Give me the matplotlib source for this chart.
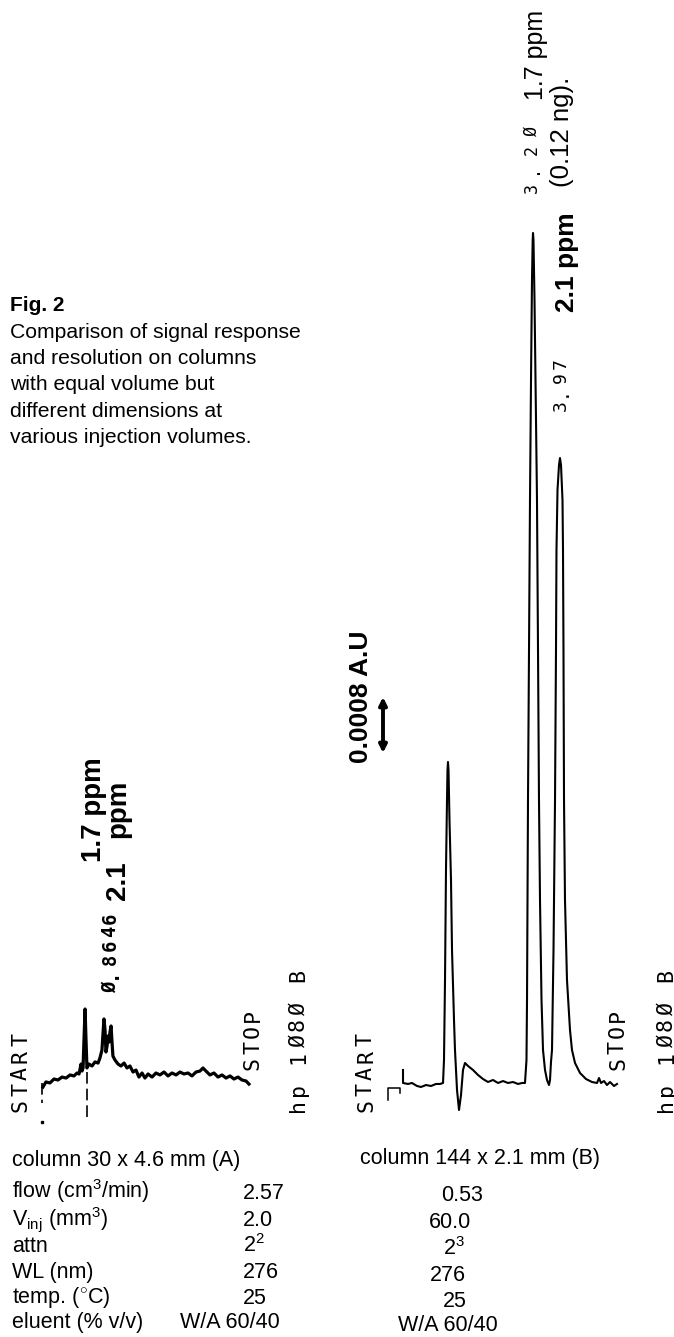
import matplotlib
matplotlib.use("Agg")
import matplotlib.pyplot as plt

plt.rcParams['mathtext.fontset'] = 'custom'
plt.rcParams['mathtext.rm'] = 'Liberation Sans'
plt.rcParams['mathtext.it'] = 'Liberation Sans:italic'
plt.rcParams['mathtext.bf'] = 'Liberation Sans:bold'

# ---------------- data ----------------
# Column A chromatogram (30 x 4.6 mm): retention time (min), absorbance (mAU)
left_t = [0.485, 0.507, 0.537, 0.567, 0.597, 0.627, 0.657, 0.687, 0.716, 0.739,
          0.754, 0.769, 0.776, 0.784, 0.791, 0.799, 0.806, 0.813, 0.828, 0.851,
          0.873, 0.896, 0.910, 0.925, 0.940, 0.948, 0.955, 0.963, 0.970, 0.978,
          0.985, 0.993, 1.000, 1.007, 1.022, 1.045, 1.067, 1.090, 1.112, 1.134,
          1.157, 1.179, 1.201, 1.224, 1.246, 1.269, 1.299, 1.328, 1.358, 1.388,
          1.418, 1.448, 1.478, 1.507, 1.537, 1.567, 1.597, 1.627, 1.657, 1.679,
          1.701, 1.731, 1.761, 1.791, 1.821, 1.851, 1.881, 1.910, 1.940, 1.970,
          2.000, 2.022]
left_mau = [-0.050, -0.014, -0.021, 0.007, 0.000, 0.021, 0.014, 0.036, 0.029, 0.050,
            0.043, 0.114, 0.064, 0.086, 0.286, 0.507, 0.286, 0.086, 0.114, 0.100,
            0.129, 0.121, 0.157, 0.214, 0.436, 0.357, 0.200, 0.243, 0.314, 0.271,
            0.343, 0.386, 0.271, 0.171, 0.143, 0.114, 0.100, 0.121, 0.086, 0.100,
            0.057, 0.071, 0.021, 0.050, 0.014, 0.043, 0.021, 0.050, 0.036, 0.057,
            0.029, 0.050, 0.036, 0.057, 0.043, 0.050, 0.029, 0.057, 0.064, 0.086,
            0.064, 0.036, 0.050, 0.021, 0.036, 0.014, 0.029, 0.007, 0.021, 0.000,
            -0.007, -0.029]
left_inject_t = 0.813
left_inject_mau = [0.057, -0.286]
left_start_t = 0.478
left_start_mau = [-0.021, -0.164]

# Column B chromatogram (144 x 2.1 mm)
right_t = [-0.514, -0.514, -0.371, -0.257, -0.114, 0.000, 0.143, 0.286, 0.429, 0.543,
           0.629, 0.657, 0.686, 0.714, 0.743, 0.757, 0.771, 0.786, 0.814, 0.857,
           0.886, 0.943, 0.971, 1.029, 1.086, 1.143, 1.200, 1.257, 1.343, 1.486,
           1.629, 1.771, 1.914, 2.057, 2.200, 2.343, 2.486, 2.629, 2.771, 2.886,
           2.971, 3.014, 3.029, 3.043, 3.057, 3.086, 3.114, 3.143, 3.171, 3.191,
           3.200, 3.214, 3.243, 3.286, 3.314, 3.343, 3.371, 3.400, 3.443, 3.486,
           3.543, 3.600, 3.657, 3.686, 3.714, 3.743, 3.786, 3.829, 3.857, 3.871,
           3.900, 3.943, 3.971, 4.000, 4.043, 4.057, 4.071, 4.086, 4.114, 4.171,
           4.257, 4.314, 4.400, 4.543, 4.714, 4.886, 5.029, 5.086, 5.143, 5.229,
           5.314, 5.400, 5.514, 5.600]
right_mau = [0.229, 0.043, 0.029, 0.043, 0.000, -0.014, 0.014, 0.000, 0.029, 0.029,
             0.043, 0.371, 1.514, 3.086, 4.086, 4.514, 4.629, 4.514, 3.800, 2.943,
             1.943, 0.943, 0.514, -0.057, -0.343, -0.129, 0.229, 0.329, 0.286, 0.229,
             0.157, 0.100, 0.057, 0.086, 0.043, 0.071, 0.043, 0.057, 0.029, 0.043,
             0.043, 0.371, 1.229, 2.657, 4.086, 6.229, 8.371, 10.086, 11.514, 12.086,
             12.186, 12.086, 11.229, 9.514, 8.371, 6.229, 4.086, 2.657, 1.229, 0.514,
             0.229, 0.086, 0.014, 0.086, 0.343, 0.514, 1.943, 4.086, 6.229, 7.657,
             8.514, 8.871, 8.971, 8.871, 8.371, 7.657, 6.229, 4.086, 2.657, 1.514,
             0.800, 0.514, 0.329, 0.186, 0.100, 0.057, 0.043, 0.114, 0.043, 0.071,
             0.014, 0.057, 0.000, 0.029]
right_hook_t = [-0.943, -0.943, -0.600, -0.600]
right_hook_mau = [-0.200, -0.029, -0.029, -0.100]
scale_bar_mau = 0.8          # 0.0008 A.U

# Table
row_labels = [r"flow (cm$^{3}$/min)", r"V$_{\rm inj}$ (mm$^{3}$)", "attn",
              "WL (nm)", r"temp. ($^{\circ}$C)", "eluent (% v/v)"]
col_a_title = "column 30 x 4.6 mm (A)"
col_b_title = "column 144 x 2.1 mm (B)"
col_a_values = ["2.57", "2.0", r"2$^{2}$", "276", "25", "W/A 60/40"]
col_b_values = ["0.53", "60.0", r"2$^{3}$", "276", "25", "W/A 60/40"]

caption_title = "Fig. 2"
caption_lines = ["Comparison of signal response",
                 "and resolution on columns",
                 "with equal volume but",
                 "different dimensions at",
                 "various injection volumes."]

# ---------------- figure ----------------
W, H = 674, 1337
fig = plt.figure(figsize=(W / 100, H / 100), dpi=100)
fig.patch.set_facecolor("white")

bg = fig.add_axes([0, 0, 1, 1])
bg.set_xlim(0, W)
bg.set_ylim(H, 0)
bg.axis("off")


def px_axes(x0, x1, ytop, ybot):
    ax = fig.add_axes([x0 / W, 1 - ybot / H, (x1 - x0) / W, (ybot - ytop) / H])
    ax.set_facecolor("none")
    ax.axis("off")
    return ax


# chart geometry (recorder scale)
R_T0, R_PPM, R_BASE, R_PPA = 421, 35.0, 1086, 70.0     # right: px/min, px/mAU
L_T0, L_PPM, L_BASE, L_PPA = -22, 134.0, 1080, 140.0   # left (attn 2^2)

axR = px_axes(380, 640, 200, 1130)
axR.set_xlim((380 - R_T0) / R_PPM, (640 - R_T0) / R_PPM)
axR.set_ylim((R_BASE - 1130) / R_PPA, (R_BASE - 200) / R_PPA)

axL = px_axes(30, 270, 950, 1130)
axL.set_xlim((30 - L_T0) / L_PPM, (270 - L_T0) / L_PPM)
axL.set_ylim((L_BASE - 1130) / L_PPA, (L_BASE - 950) / L_PPA)

# traces
axL.plot(left_t, left_mau, color="black", lw=2.3, solid_joinstyle="round")
axL.plot([left_inject_t, left_inject_t], left_inject_mau, color="black", lw=1.2,
         ls=(0, (7, 3)))
axL.plot([left_start_t, left_start_t], left_start_mau, color="black", lw=1.2,
         ls=(0, (7, 3)))
axL.plot([left_start_t], [-0.300], marker="s", ms=1.5, color="black")

axR.plot(right_t, right_mau, color="black", lw=1.5, solid_joinstyle="round")
axR.plot(right_hook_t, right_hook_mau, color="black", lw=1.1)
bar_t = (383 - R_T0) / R_PPM
bar_y0 = (R_BASE - 753) / R_PPA
axR.annotate("", xy=(bar_t, bar_y0 + scale_bar_mau), xytext=(bar_t, bar_y0),
             arrowprops=dict(arrowstyle="<|-|>", lw=2.8, color="black",
                             mutation_scale=11, shrinkA=0, shrinkB=0))


# ---------------- text helpers ----------------
def rtext(x, y, s, size, weight="normal", family="Liberation Sans"):
    bg.text(x, y, s, rotation=90, rotation_mode="anchor", ha="left",
            va="baseline", fontsize=size, fontweight=weight, family=family,
            color="black")


def hp_text(xc, y_first, s, pitch, size, weight="normal"):
    for i, ch in enumerate(s):
        if ch == " ":
            continue
        bg.text(xc, y_first - i * pitch, ch, rotation=90, ha="center",
                va="center", fontsize=size, fontweight=weight,
                family="DejaVu Sans Mono", color="black")


# printer annotations
hp_text(21, 1106, "START", 16.5, 15.5)
hp_text(366, 1106, "START", 16.5, 15.5)
hp_text(253, 1064, "STOP", 16, 15.5)
hp_text(618, 1064, "STOP", 16, 15.5)
hp_text(298, 1106, "hp 1Ø8Ø B", 16.3, 15.5)
hp_text(666, 1106, "hp 1Ø8Ø B", 16.3, 15.5)
hp_text(110, 987, "Ø.8646", 13.8, 13.5, weight="bold")
hp_text(561, 406, "3.97", 14, 13)
hp_text(532, 188, "3.2Ø", 19, 12)

# hand labels
rtext(101, 862, "1.7 ppm", 20, weight="bold")
rtext(125, 900, "2.1", 20, weight="bold")
rtext(125, 838, "ppm", 20, weight="bold")
rtext(543, 100, "1.7 ppm", 18)
rtext(569, 187, "(0.12 ng).", 18.5)
rtext(574, 312, "2.1 ppm", 19, weight="bold")
rtext(368, 763, "0.0008 A.U", 19, weight="bold")

# caption
bg.text(10, 311, caption_title, fontsize=15, fontweight="bold",
        family="Liberation Sans", va="baseline", ha="left")
for i, line in enumerate(caption_lines):
    bg.text(10, 338 + i * 26.2, line, fontsize=15.2, family="Liberation Sans",
            va="baseline", ha="left")

# table
tfont = dict(fontsize=15.5, family="Liberation Sans", va="baseline", ha="left")
bg.text(12, 1166, col_a_title, **tfont)
bg.text(360, 1164, col_b_title, **tfont)
label_base = [1198, 1225, 1252, 1278, 1303, 1328]
a_x = [243, 243, 243, 243, 243, 180]
a_base = [1199, 1226, 1252, 1278, 1304, 1328]
b_x = [441, 429, 443, 430, 443, 398]
b_base = [1201, 1228, 1255, 1281, 1307, 1331]
for lab, yb in zip(row_labels, label_base):
    bg.text(12, yb, lab, **tfont)
for v, x, yb in zip(col_a_values, a_x, a_base):
    bg.text(x, yb, v, **tfont)
for v, x, yb in zip(col_b_values, b_x, b_base):
    bg.text(x, yb, v, **tfont)

fig.savefig("out.png", dpi=100, facecolor="white")
